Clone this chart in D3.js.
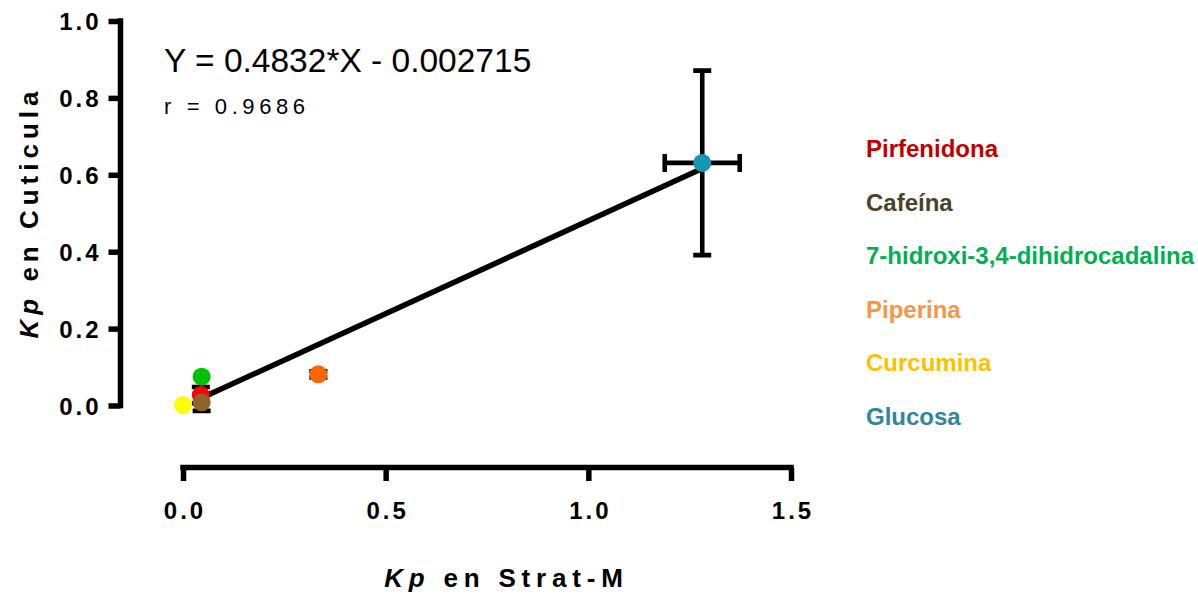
<!DOCTYPE html>
<html>
<head>
<meta charset="utf-8">
<script src="https://cdn.jsdelivr.net/npm/d3@7"></script>
<style>
  html, body { margin: 0; padding: 0; background: #fff; }
  svg { display: block; }
  text { font-family: "Liberation Sans", Arial, sans-serif; }
</style>
</head>
<body>
<svg id="chart" width="1198" height="594"></svg>
<script>
// Compounds: permeability coefficient in Strat-M (x) and in the cuticle (y)
const compounds   = ["Pirfenidona", "Cafeína", "7-hidroxi-3,4-dihidrocadalina", "Piperina", "Curcumina", "Glucosa"];
const kpStratM    = [0.044, 0.046, 0.046, 0.334, 0.000, 1.281];
const kpCuticula  = [0.027, 0.008, 0.075, 0.081, 0.001, 0.631];
const errStratM   = [0.000, 0.000, 0.000, 0.000, 0.000, 0.0925];
const errCuticula = [0.021, 0.022, 0.000, 0.008, 0.000, 0.240];
const markerColors = ["#FF0000", "#8F6428", "#00C000", "#FF6600", "#FFFF00", "#1497B3"];
const legendColors = ["#C00000", "#494429", "#00B050", "#F79646", "#FFC000", "#31859C"];

// Linear fit: Y = slope*X + intercept, drawn over the fitted x range
const slope = 0.4832;
const intercept = -0.002715;
const fitRange = [0.044, 1.281];
const fitR = 0.9686;

const xTicks = [0.0, 0.5, 1.0, 1.5];
const yTicks = [0.0, 0.2, 0.4, 0.6, 0.8, 1.0];

const svg = d3.select("#chart");
const x = d3.scaleLinear().domain([0, 1.5]).range([183, 791]);
const y = d3.scaleLinear().domain([0, 1]).range([405.5, 21]);

const axisW = 5.5;
const yAxisX = 120.5;
const xAxisY = 467.5;
const tickLS = 3;

// Y axis
const yAxis = d3.axisLeft(y).tickValues(yTicks).tickSize(12).tickSizeOuter(0)
  .tickFormat(d3.format(".1f"));
const gy = svg.append("g").attr("transform", `translate(${yAxisX},0)`).call(yAxis);
gy.select(".domain").attr("d", `M0,${y(1) - axisW / 2}V${y(0) + axisW / 2}`)
  .attr("stroke", "#000").attr("stroke-width", axisW).attr("fill", "none");
gy.selectAll(".tick line").attr("stroke", "#000").attr("stroke-width", axisW);
gy.selectAll(".tick text")
  .attr("x", -22 + tickLS).attr("dy", "0.36em")
  .style("font-size", "24px").style("font-weight", "bold").style("letter-spacing", `${tickLS}px`)
  .attr("fill", "#000");

// X axis
const xAxis = d3.axisBottom(x).tickValues(xTicks).tickSize(13.5).tickSizeOuter(0)
  .tickFormat(d3.format(".1f"));
const gx = svg.append("g").attr("transform", `translate(0,${xAxisY})`).call(xAxis);
gx.select(".domain").attr("d", `M${x(0) - axisW / 2},0H${x(1.5) + axisW / 2}`)
  .attr("stroke", "#000").attr("stroke-width", axisW).attr("fill", "none");
gx.selectAll(".tick line").attr("stroke", "#000").attr("stroke-width", axisW);
gx.selectAll(".tick text")
  .attr("y", 51).attr("dy", 0).attr("dx", tickLS / 2)
  .style("font-size", "24px").style("font-weight", "bold").style("letter-spacing", `${tickLS}px`)
  .attr("fill", "#000");
svg.selectAll(".tick text").attr("font-family", null);

// Axis titles
const xTitleLS = 5.8;
const xTitle = svg.append("text")
  .attr("x", 503.5 + xTitleLS / 2).attr("y", 587).attr("text-anchor", "middle")
  .style("font-size", "26px").style("font-weight", "bold").style("letter-spacing", `${xTitleLS}px`);
xTitle.append("tspan").style("font-style", "italic").text("Kp");
xTitle.append("tspan").text(" en Strat-M");

const yTitleLS = 5;
const yTitle = svg.append("text")
  .attr("transform", "translate(38,215) rotate(-90)")
  .attr("x", yTitleLS / 2).attr("text-anchor", "middle")
  .style("font-size", "26px").style("font-weight", "bold").style("letter-spacing", `${yTitleLS}px`);
yTitle.append("tspan").style("font-style", "italic").text("Kp");
yTitle.append("tspan").text(" en Cuticula");

// Regression line
svg.append("line")
  .attr("x1", x(fitRange[0])).attr("y1", y(slope * fitRange[0] + intercept))
  .attr("x2", x(fitRange[1])).attr("y2", y(slope * fitRange[1] + intercept))
  .attr("stroke", "#000").attr("stroke-width", 5.5);

// Error bars
const capHalf = 9;
const errG = svg.append("g").attr("stroke", "#000").attr("stroke-width", 4.6).attr("fill", "none");
compounds.forEach((c, i) => {
  const cx = x(kpStratM[i]), cy = y(kpCuticula[i]);
  if (errCuticula[i] > 0) {
    const top = y(kpCuticula[i] + errCuticula[i]);
    const bot = y(kpCuticula[i] - errCuticula[i]);
    errG.append("path").attr("d",
      `M${cx},${top}V${bot}M${cx - capHalf},${top}H${cx + capHalf}M${cx - capHalf},${bot}H${cx + capHalf}`);
  }
  if (errStratM[i] > 0) {
    const l = x(kpStratM[i] - errStratM[i]);
    const r = x(kpStratM[i] + errStratM[i]);
    errG.append("path").attr("d",
      `M${l},${cy}H${r}M${l},${cy - capHalf}V${cy + capHalf}M${r},${cy - capHalf}V${cy + capHalf}`);
  }
});

// Points
svg.append("g").selectAll("circle")
  .data(compounds.map((c, i) => ({ c, i })))
  .join("circle")
  .attr("cx", d => x(kpStratM[d.i]))
  .attr("cy", d => y(kpCuticula[d.i]))
  .attr("r", 9)
  .attr("fill", d => markerColors[d.i]);

// Fit equation
svg.append("text").attr("x", 164).attr("y", 72)
  .style("font-size", "33.5px")
  .text(`Y = ${slope}*X - ${Math.abs(intercept)}`);
svg.append("text").attr("x", 164).attr("y", 114)
  .style("font-size", "22px").style("letter-spacing", "4.6px")
  .text(`r = ${fitR}`);

// Legend
svg.append("g").selectAll("text")
  .data(compounds)
  .join("text")
  .attr("x", 866)
  .attr("y", (d, i) => 157 + i * 53.5)
  .style("font-size", "24px").style("font-weight", "bold")
  .attr("fill", (d, i) => legendColors[i])
  .text(d => d);
</script>
</body>
</html>
